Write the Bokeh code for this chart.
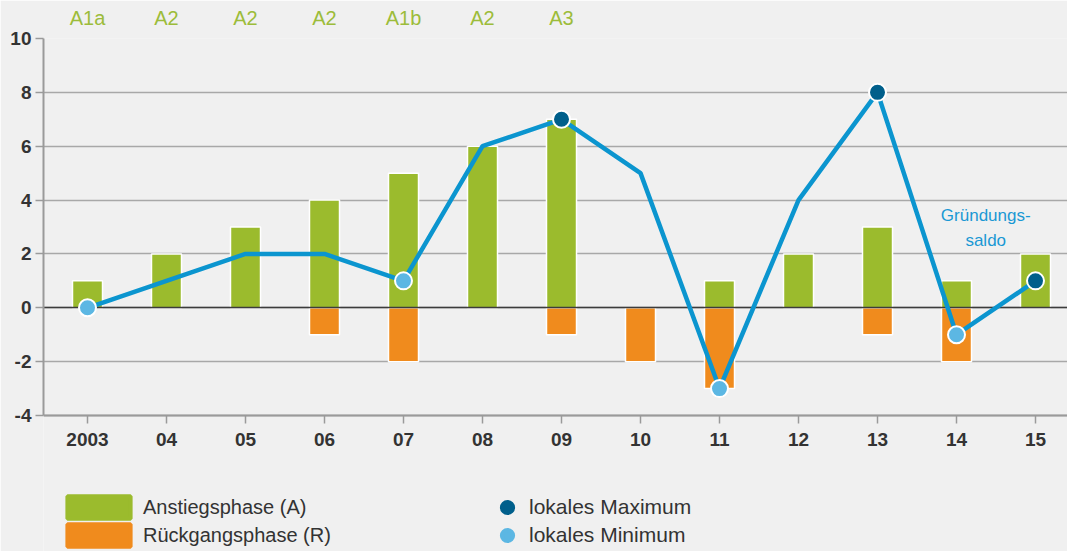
from bokeh.plotting import figure
from bokeh.models import Range1d, FixedTicker, LinearAxis, Legend, LegendItem, Label
from bokeh.embed import file_html
from bokeh.resources import INLINE

# ---- data ----
years = ["2003", "04", "05", "06", "07", "08", "09", "10", "11", "12", "13", "14", "15"]
phases = ["A1a", "A2", "A2", "A2", "A1b", "A2", "A3"]
rise = [1, 2, 3, 4, 5, 6, 7, 0, 1, 2, 3, 1, 2]
decline = [0, 0, 0, -1, -2, 0, -1, -2, -3, 0, -1, -2, 0]
saldo = [0, 1, 2, 2, 1, 6, 7, 5, -3, 4, 8, -1, 1]
max_years = ["09", "13", "15"]
min_years = ["2003", "07", "11", "14"]
y_ticks = [-4, -2, 0, 2, 4, 6, 8, 10]

GREEN = "#9bbb2d"
ORANGE = "#f08b1d"
LINE = "#0b95cf"
DARK = "#005f8b"
LIGHT = "#5cb7e3"
BG = "#f0f0f0"
FONT = "Liberation Sans"
TXT = "#333333"
NAN = float("nan")

idx = list(range(len(years)))
pos = {y: i for i, y in enumerate(years)}

# frame: x 43..1067, y 38..551 ; 26.93 px per unit vertically
p = figure(width=1067, height=551, output_backend="svg", toolbar_location=None,
           x_range=Range1d(-0.557, 12.405), y_range=Range1d(-9.05, 10),
           min_border_left=43, min_border_right=0, min_border_top=38, min_border_bottom=0)
p.border_fill_color = BG
p.background_fill_color = BG
p.outline_line_color = None

# grid
p.xgrid.visible = False
p.ygrid.ticker = FixedTicker(ticks=y_ticks)
p.ygrid.grid_line_color = "#a8a8a8"
p.ygrid.grid_line_width = 1.5

# y axis
ya = p.yaxis[0]
ya.ticker = FixedTicker(ticks=y_ticks)
ya.major_label_overrides = {t: str(t) for t in y_ticks}
ya.bounds = (-4, 10)
ya.axis_line_color = "#9a9a9a"
ya.axis_line_width = 2
ya.major_tick_line_color = "#9a9a9a"
ya.major_tick_line_width = 1.5
ya.major_tick_out = 8
ya.major_tick_in = 0
ya.minor_tick_line_color = None
ya.major_label_standoff = 4
ya.major_label_text_font = FONT
ya.major_label_text_font_style = "bold"
ya.major_label_text_font_size = "19px"
ya.major_label_text_color = TXT

# x axis (drawn at y = -4 inside the frame)
xa = p.xaxis[0]
xa.fixed_location = -4
xa.ticker = FixedTicker(ticks=idx)
xa.major_label_overrides = {i: y for i, y in enumerate(years)}
xa.axis_line_color = "#9a9a9a"
xa.axis_line_width = 2
xa.major_tick_line_color = "#9a9a9a"
xa.major_tick_line_width = 1.5
xa.major_tick_out = 8
xa.major_tick_in = 0
xa.minor_tick_line_color = None
xa.major_label_standoff = 9
xa.major_label_text_font = FONT
xa.major_label_text_font_style = "bold"
xa.major_label_text_font_size = "19px"
xa.major_label_text_color = TXT

# phase labels on top
ta = LinearAxis(ticker=FixedTicker(ticks=idx[:len(phases)]),
                major_label_overrides={i: ph for i, ph in enumerate(phases)})
ta.axis_line_color = None
ta.major_tick_line_color = None
ta.minor_tick_line_color = None
ta.major_tick_out = 0
ta.major_label_standoff = 10
ta.major_label_text_font = FONT
ta.major_label_text_font_size = "20px"
ta.major_label_text_color = "#9cbc3a"
p.add_layout(ta, "above")

# bars
gx = [i for i in idx if rise[i] != 0]
gt = [rise[i] for i in gx]
ox = [i for i in idx if decline[i] != 0]
ot = [decline[i] for i in ox]
p.vbar(x=gx, top=gt, bottom=0, width=0.38, fill_color=GREEN,
       line_color="white", line_width=1.5)
p.vbar(x=ox, top=ot, bottom=0, width=0.38, fill_color=ORANGE,
       line_color="white", line_width=1.5)

# zero line
p.hspan(y=[0], line_color="#3c3c3c", line_width=1.5)

# saldo line
p.line(idx, saldo, line_color=LINE, line_width=4.5)

mx = [pos[y] for y in max_years]
mn = [pos[y] for y in min_years]
p.scatter(mx, [saldo[i] for i in mx], size=17, fill_color=DARK,
          line_color="white", line_width=2)
p.scatter(mn, [saldo[i] for i in mn], size=17, fill_color=LIGHT,
          line_color="white", line_width=2)

# series label
for txt, yv in (("Gründungs-", 3.42), ("saldo", 2.49)):
    p.add_layout(Label(x=11.37, y=yv, text=txt, text_align="center",
                       text_baseline="middle", text_font=FONT,
                       text_font_size="17px", text_color="#1a98d4"))

# legend swatches (renderers that draw nothing in the plot, only used for the legend)
lg_green = p.vbar(x=[NAN], top=[NAN], bottom=[NAN], width=0.38, fill_color=GREEN,
                  line_color=GREEN, line_width=4)
lg_orange = p.vbar(x=[NAN], top=[NAN], bottom=[NAN], width=0.38, fill_color=ORANGE,
                   line_color=ORANGE, line_width=4)
lg_max = p.scatter(x=[NAN], y=[NAN], fill_color=DARK, line_color=DARK, line_width=4)
lg_min = p.scatter(x=[NAN], y=[NAN], fill_color=LIGHT, line_color=LIGHT, line_width=4)

common = dict(glyph_height=28, spacing=0, padding=0, margin=0,
              border_line_color=None, background_fill_alpha=0,
              label_text_font=FONT, label_text_color=TXT, label_height=28)
leg1 = Legend(items=[LegendItem(label="Anstiegsphase (A)", renderers=[lg_green], index=0),
                     LegendItem(label="Rückgangsphase (R)", renderers=[lg_orange], index=0)],
              location=(16, 2), glyph_width=79, label_standoff=5,
              label_text_font_size="20px", **common)
leg2 = Legend(items=[LegendItem(label="lokales Maximum", renderers=[lg_max], index=0),
                     LegendItem(label="lokales Minimum", renderers=[lg_min], index=0)],
              location=(450, 2), glyph_width=28, label_standoff=8,
              label_text_font_size="21px", **common)
p.add_layout(leg1, "center")
p.add_layout(leg2, "center")

open("out.html", "w").write(file_html(p, INLINE))
